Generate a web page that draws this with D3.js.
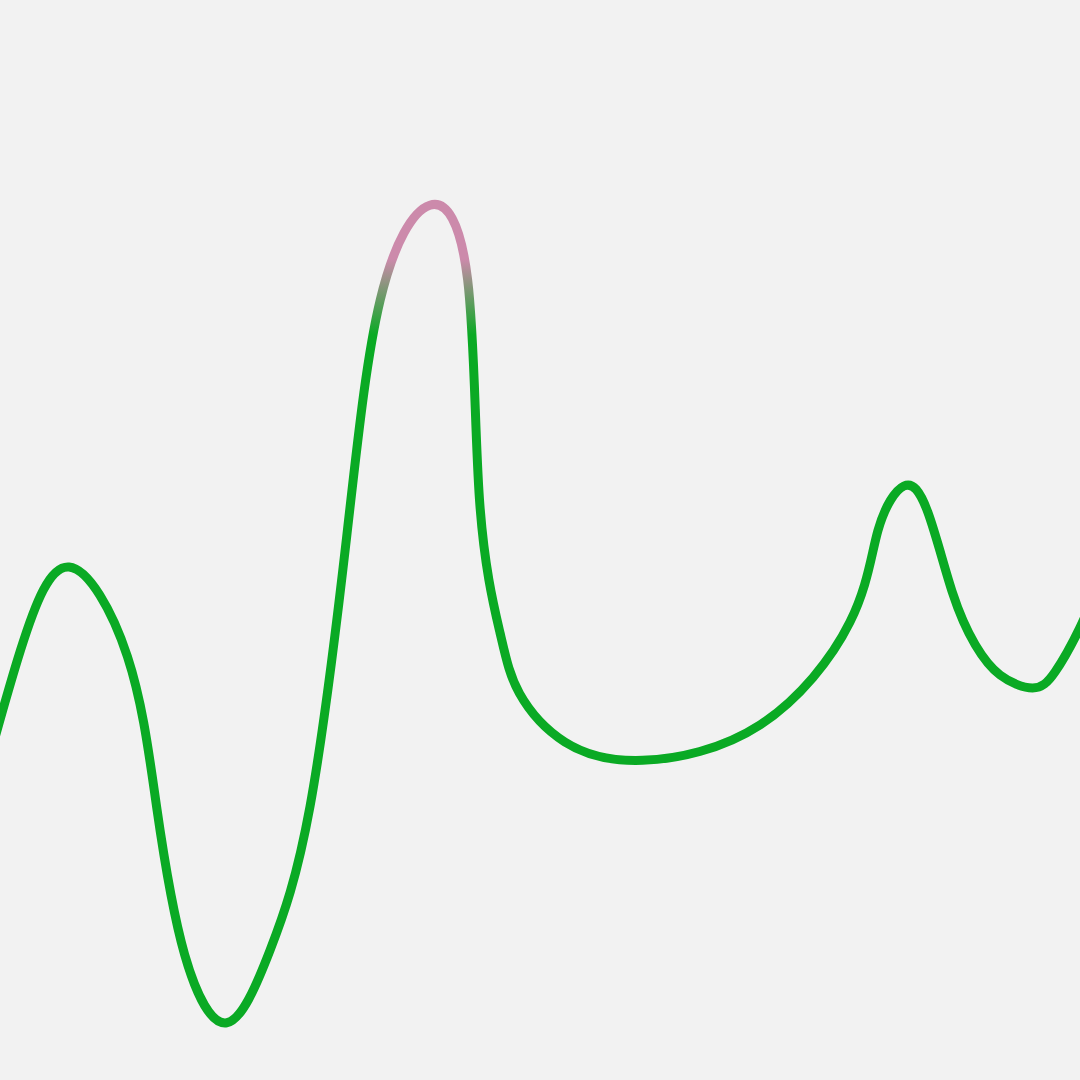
<!DOCTYPE html>
<html>
<head>
<meta charset="utf-8">
<script src="https://cdn.jsdelivr.net/npm/d3@7"></script>
<style>
  html, body { margin: 0; padding: 0; background: #f2f2f2; }
  svg { display: block; }
</style>
</head>
<body>
<svg id="chart"></svg>
<script>
// points (x in arbitrary units, y value 0-100)
const xValues = [-2.3, 1.9, 6.4, 11.8, 14.5, 17.1, 21.0, 25.0, 28.7, 32.1, 35.2, 39.8, 43.3,
                 44.4, 46.3, 48.1, 52.3, 59.5, 70.4, 78.7, 81.3, 83.7, 85.9, 88.2, 90.3, 92.6, 95.6,
                 97.7, 100.0, 101.9];
const yValues = [25.0, 39.8, 47.5, 39.2, 25.3, 11.6, 5.3, 12.0, 25.3, 50.3, 72.2, 81.0, 74.1,
                 53.7, 41.4, 35.8, 31.3, 29.6, 32.9, 42.4, 50.9, 55.0, 52.6, 45.1, 40.3, 37.5, 36.3,
                 37.8, 41.9, 46.3];

// colour bands for the stroke gradient
const highValue = 76;
const lowValue = 69;

const width = 1080, height = 1080;

const svg = d3.select("#chart")
    .attr("width", width)
    .attr("height", height);

// background
svg.append("rect")
    .attr("width", width)
    .attr("height", height)
    .attr("fill", "#f2f2f2");

const x = d3.scaleLinear().domain([0, 100]).range([0, width]);
const y = d3.scaleLinear().domain([0, 100]).range([height, 0]);

const data = xValues.map((v, i) => ({ x: v, y: yValues[i] }));

// vertical gradient: pink above the high value, green below the low one
const grad = svg.append("defs").append("linearGradient")
    .attr("id", "line-grad")
    .attr("gradientUnits", "userSpaceOnUse")
    .attr("x1", 0).attr("x2", 0)
    .attr("y1", y(highValue))
    .attr("y2", y(lowValue));
grad.append("stop").attr("offset", "0%").attr("stop-color", "#cc8aab");
grad.append("stop").attr("offset", "100%").attr("stop-color", "#0aaa24");

const line = d3.line()
    .x(d => x(d.x))
    .y(d => y(d.y))
    .curve(d3.curveNatural);

svg.append("path")
    .datum(data)
    .attr("d", line)
    .attr("fill", "none")
    .attr("stroke", "url(#line-grad)")
    .attr("stroke-width", 9)
    .attr("stroke-linejoin", "round");
</script>
</body>
</html>
